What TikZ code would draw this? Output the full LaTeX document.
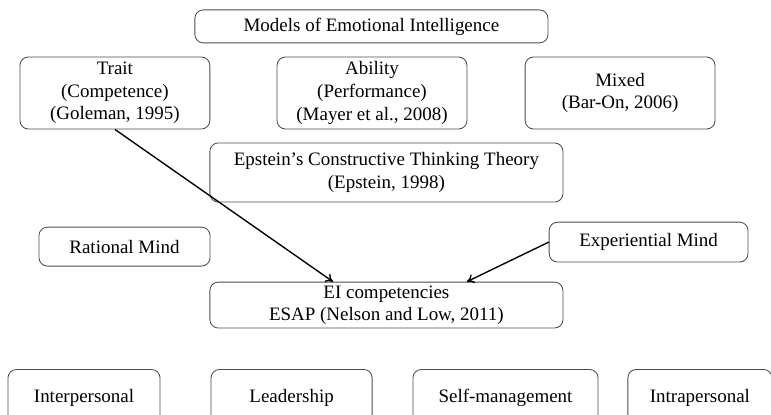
\documentclass[tikz,border=0pt]{standalone}
\usepackage{fontspec}
\setmainfont{Liberation Serif}
\usepackage{tikz}
\usetikzlibrary{arrows.meta}
\tikzset{eibox/.style={draw=black!70, rounded corners=8pt, line width=0.8pt, align=center, inner sep=2pt, font=\fontsize{18}{21.5}\selectfont}}
\tikzset{eiarrow/.style = {-{To[length=7pt,width=9pt]}, line width=1.3pt}}

\begin{document}
\begin{tikzpicture}
    \clip (0,0) rectangle (25.7,-13.8);
    \useasboundingbox (0,0) rectangle (25.7,-13.8);

    \node[eibox, minimum width=11.77cm, minimum height=1.1cm] (models) at (12.38, -0.88) {Models of Emotional Intelligence};

    \node[eibox, minimum width=6.33cm, minimum height=2.4cm] (trait)   at (3.83, -3.1)  {Trait\\(Competence)\\(Goleman, 1995)};
    \node[eibox, minimum width=6.33cm, minimum height=2.4cm] (ability) at (12.4, -3.1)  {Ability\\(Performance)\\(Mayer et al., 2008)};
    \node[eibox, minimum width=6.33cm, minimum height=2.4cm] (mixed)   at (20.67, -3.1) {Mixed\\(Bar-On, 2006)};

    \node[eibox, minimum width=11.77cm, minimum height=1.97cm] (epstein) at (12.88, -5.75) {Epstein's Constructive Thinking Theory\\(Epstein, 1998)};

    \node[eibox, minimum width=5.7cm, minimum height=1.3cm]   (rational) at (4.15, -8.22)  {Rational Mind};
    \node[eibox, minimum width=6.63cm, minimum height=1.33cm] (expmind)  at (21.62, -8.07) {Experiential Mind};

    \node[eibox, minimum width=11.77cm, minimum height=1.53cm] (ei) at (12.88, -10.17) {EI competencies\\ESAP (Nelson and Low, 2011)};

    \node[eibox, minimum width=5.07cm, minimum height=1.87cm] (inter)  at (2.8, -13.25)   {Interpersonal};
    \node[eibox, minimum width=5.37cm, minimum height=1.87cm] (lead)   at (9.72, -13.25)  {Leadership};
    \node[eibox, minimum width=6.17cm, minimum height=1.87cm] (selfm)  at (16.85, -13.25) {Self-management};
    \node[eibox, minimum width=4.8cm, minimum height=1.87cm]  (intra)  at (23.33, -13.25) {Intrapersonal};

    \draw[eiarrow] (trait.south) -- ([xshift=-1.78cm]ei.north);
    \draw[eiarrow] (expmind.west) -- ([xshift=2.68cm]ei.north);

\end{tikzpicture}
\end{document}
